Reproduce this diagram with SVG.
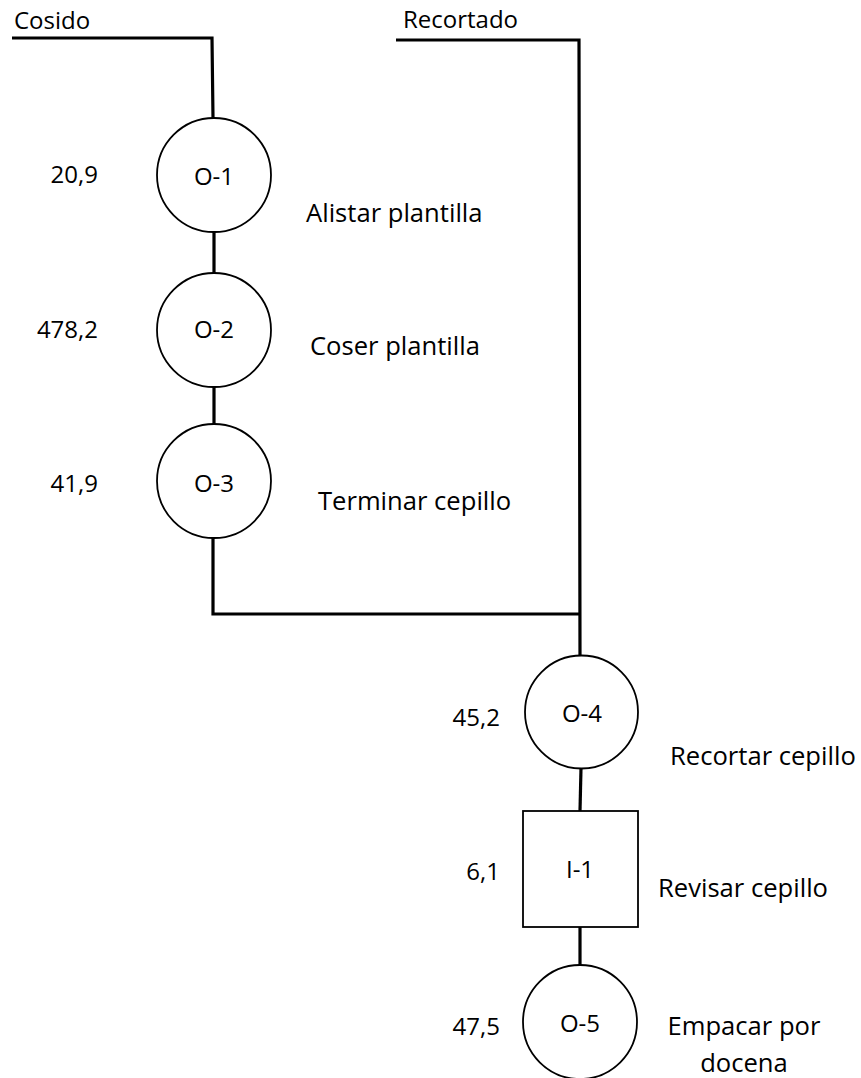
<svg xmlns="http://www.w3.org/2000/svg" width="861" height="1078" viewBox="0 0 861 1078">
  <style>
    text { font-family: "Open Sans", "Noto Sans", "Liberation Sans", sans-serif; font-size: 24px; fill: #000; }
    .lbl { font-size: 25.6px; }
    .mid { text-anchor: middle; }
    .end { text-anchor: end; }
    .shape { fill: #fff; stroke: #000; stroke-width: 1.8; }
    .link { fill: none; stroke: #000; stroke-width: 3.2; stroke-linejoin: miter; stroke-linecap: butt; }
  </style>
  <rect width="861" height="1078" fill="#fff"/>

  <!-- connectors -->
  <g id="connectors">
    <polyline class="link" points="12,38 212,38 213,118"/>
    <polyline class="link" points="396,40 579,40 580,656"/>
    <line class="link" x1="214" y1="232" x2="214" y2="273"/>
    <line class="link" x1="214" y1="387" x2="214" y2="424"/>
    <polyline class="link" points="213,538 213,614 579,614"/>
    <line class="link" x1="581" y1="768" x2="580" y2="811"/>
    <line class="link" x1="580" y1="927" x2="580" y2="965"/>
  </g>

  <!-- inputs -->
  <g id="input-cosido"><text x="14" y="29">Cosido</text></g>
  <g id="input-recortado"><text x="403" y="28">Recortado</text></g>

  <!-- O-1 -->
  <g id="op-1">
    <circle class="shape" cx="214" cy="175" r="57"/>
    <text class="mid" x="214" y="185">O-1</text>
    <text class="end" x="98" y="183">20,9</text>
    <text class="lbl" x="306" y="222">Alistar plantilla</text>
  </g>

  <!-- O-2 -->
  <g id="op-2">
    <circle class="shape" cx="214" cy="330" r="57"/>
    <text class="mid" x="214" y="338">O-2</text>
    <text class="end" x="98" y="338">478,2</text>
    <text class="lbl" x="310" y="355">Coser plantilla</text>
  </g>

  <!-- O-3 -->
  <g id="op-3">
    <circle class="shape" cx="214" cy="481" r="57"/>
    <text class="mid" x="214" y="492">O-3</text>
    <text class="end" x="98" y="492">41,9</text>
    <text class="lbl" x="318" y="510">Terminar cepillo</text>
  </g>

  <!-- O-4 -->
  <g id="op-4">
    <circle class="shape" cx="581.5" cy="712" r="56.5"/>
    <text class="mid" x="582" y="722">O-4</text>
    <text class="end" x="500" y="726">45,2</text>
    <text class="lbl" x="670" y="765">Recortar cepillo</text>
  </g>

  <!-- I-1 -->
  <g id="insp-1">
    <rect class="shape" x="523" y="811" width="115" height="116"/>
    <text class="mid" x="580" y="878">I-1</text>
    <text class="end" x="500" y="880">6,1</text>
    <text class="lbl" x="658" y="897">Revisar cepillo</text>
  </g>

  <!-- O-5 -->
  <g id="op-5">
    <circle class="shape" cx="580" cy="1022" r="57"/>
    <text class="mid" x="580" y="1032">O-5</text>
    <text class="end" x="500" y="1035">47,5</text>
    <text class="lbl mid" x="744" y="1035">Empacar por</text>
    <text class="lbl mid" x="744" y="1072">docena</text>
  </g>
</svg>
